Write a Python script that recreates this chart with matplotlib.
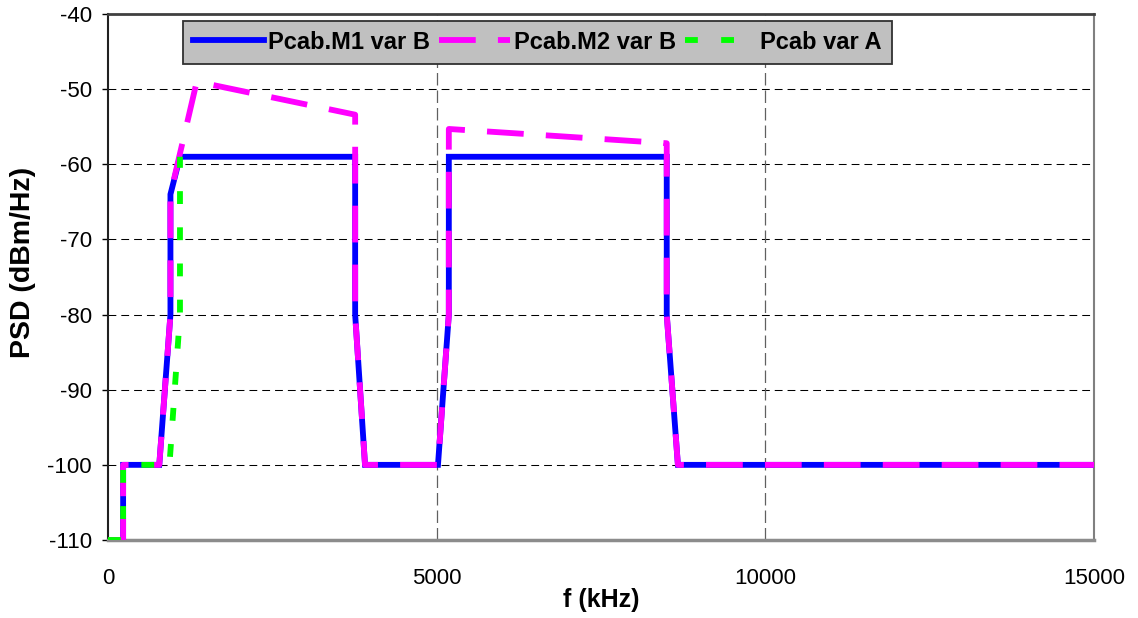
import numpy as np
import matplotlib.pyplot as plt

# PSD masks, frequency in kHz, level in dBm/Hz
f_m1 = [0, 230, 230, 780, 950, 950, 1095, 3760, 3760, 3910, 5020, 5185, 5185, 8500, 8500, 8670, 15000]
psd_m1 = [-110, -110, -100, -100, -80, -64, -59, -59, -80, -100, -100, -80, -59, -59, -80, -100, -100]

f_m2 = [0, 230, 230, 780, 950, 950, 1350, 3760, 3760, 3910, 5020, 5185, 5185, 8500, 8500, 8670, 15000]
psd_m2 = [-110, -110, -100, -100, -80, -64, -49, -53.4, -80, -100, -100, -80, -55.3, -57.2, -80, -100, -100]

f_a = [0, 230, 230, 935, 1095, 1095]
psd_a = [-110, -110, -100, -100, -80, -59]

x_ticks = [0, 5000, 10000, 15000]
y_ticks = [-110, -100, -90, -80, -70, -60, -50, -40]

plt.rcParams['font.family'] = ['Liberation Sans', 'DejaVu Sans']
plt.rcParams['axes.unicode_minus'] = False

fig = plt.figure(figsize=(11.38, 6.18), dpi=100)
ax = fig.add_axes([108 / 1138, 1 - 540 / 618, 986 / 1138, 526 / 618])

lw = 4.2
ax.plot(f_m1, psd_m1, color='#0000FF', lw=lw, solid_joinstyle='miter',
        label='Pcab.M1 var B', zorder=3)
ax.plot(f_m2, psd_m2, color='#FF00FF', lw=lw, linestyle=(0, (6.3, 3.8)),
        label='Pcab.M2 var B', zorder=4)
ax.plot(f_a, psd_a, color='#00FF00', lw=lw, linestyle=(0, (2.2, 4.0)),
        label='Pcab var A', zorder=5)

ax.set_xlim(0, 15000)
ax.set_ylim(-110, -40)
ax.set_xticks(x_ticks)
ax.set_yticks(y_ticks)
ax.tick_params(axis='x', length=0, pad=20, labelsize=16)
ax.tick_params(axis='y', length=4.5, width=1, direction='out', pad=7, labelsize=16)

# grid: black dashes across, grey dashes at 5000 / 10000
for y in y_ticks[1:-1]:
    ax.axhline(y, color='black', lw=0.75, linestyle=(0, (7.5, 4.8)), zorder=1)
for x in x_ticks[1:-1]:
    ax.axvline(x, color='#606060', lw=0.9, linestyle=(0, (10, 4)), zorder=1)

ax.spines['left'].set_color('#202020')
ax.spines['left'].set_linewidth(1.5)
ax.spines['bottom'].set_color('#8c8c8c')
ax.spines['bottom'].set_linewidth(2.5)
ax.spines['top'].set_color('#404040')
ax.spines['top'].set_linewidth(2)
ax.spines['right'].set_color('#808080')
ax.spines['right'].set_linewidth(1.5)

leg = ax.legend(loc='upper left', bbox_to_anchor=(0.076, 0.987), borderaxespad=0,
                ncol=3, prop={'weight': 'bold', 'size': 17}, handlelength=3.0,
                handletextpad=0.2, columnspacing=0.35, borderpad=0.42,
                fancybox=False, framealpha=1, facecolor='#C0C0C0', edgecolor='#303030')
leg.get_frame().set_linewidth(1.3)
leg.set_zorder(10)

fig.text(23 / 1138, 1 - 262 / 618, 'PSD (dBm/Hz)', rotation=90, ha='center', va='center',
         fontsize=20.5, fontweight='bold')
fig.text(601 / 1138, 1 - 600 / 618, 'f (kHz)', ha='center', va='center',
         fontsize=18, fontweight='bold')

fig.savefig('out.png', dpi=100)
